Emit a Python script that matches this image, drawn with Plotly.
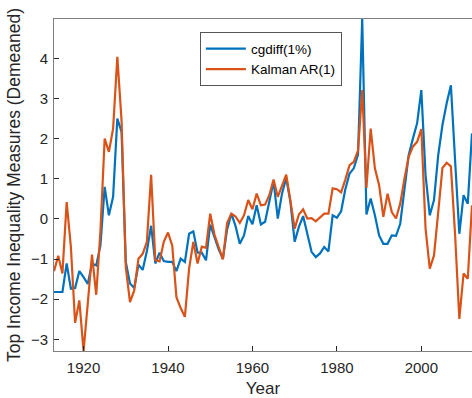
import plotly.graph_objects as go

years = list(range(1913, 2013))

cgdiff = [
    -1.82, -1.82, -1.82, -1.11, -1.74, -1.72, -1.30, -1.45, -1.62, -1.11,
    -1.16, -0.66, 0.80, 0.09, 0.55, 2.50, 2.17, -1.07, -1.61, -1.72,
    -1.14, -1.27, -0.80, -0.17, -1.11, -0.84, -1.05, -1.07, -1.07, -1.30,
    -0.99, -1.07, -0.37, -0.31, -0.84, -0.84, -1.03, -0.14, -0.45, -0.76,
    -0.99, -0.26, 0.13, -0.18, -0.62, -0.41, 0.07, -0.13, 0.34, -0.14,
    -0.07, 0.45, 0.94, 0.01, 0.63, 1.02, 0.42, -0.57, -0.20, 0.07,
    -0.39, -0.82, -0.95, -0.86, -0.70, -0.81, 0.09, 0.03, 0.19, 0.74,
    1.13, 1.26, 1.60, 4.98, 0.11, 0.51, 0.09, -0.41, -0.62, -0.62,
    -0.41, -0.42, -0.12, 0.67, 1.59, 2.00, 2.38, 3.21, 1.09, 0.09,
    0.47, 1.59, 2.34, 2.88, 3.33, 1.45, -0.37, 0.59, 0.38, 2.13,
]

kalman = [
    -1.30, -0.92, -1.36, 0.42, -0.70, -2.59, -2.03, -3.29, -2.10, -0.89,
    -1.89, -0.30, 2.00, 1.67, 2.25, 4.04, 2.45, -1.20, -2.07, -1.78,
    -0.99, -0.87, -0.57, 1.10, -1.03, -1.06, -0.57, -0.34, -0.66, -1.95,
    -2.22, -2.44, -1.24, -0.57, -1.11, -0.69, -0.72, 0.13, -0.39, -0.72,
    -1.01, -0.10, 0.13, 0.06, -0.10, 0.09, 0.47, 0.24, 0.63, 0.34,
    0.36, 0.59, 0.98, 0.55, 0.82, 1.10, 0.45, -0.24, 0.11, 0.24,
    0.01, 0.02, -0.06, 0.03, 0.13, 0.13, 0.76, 0.74, 0.66, 0.98,
    1.34, 1.42, 1.70, 3.21, 0.77, 2.25, 1.26, 0.84, 0.05, 0.63,
    0.17, 0.01, 0.38, 1.00, 1.55, 1.80, 1.92, 2.24, -0.24, -1.24,
    -0.91, 0.17, 1.27, 1.40, 1.31, -0.40, -2.49, -1.36, -1.49, 0.34,
]

series_names = ["cgdiff(1%)", "Kalman AR(1)"]
series_colors = ["#0072BD", "#D95319"]
y_ticks = [-3, -2, -1, 0, 1, 2, 3, 4]
x_ticks = [1920, 1940, 1960, 1980, 2000]

fig = go.Figure()
for name, vals, col in zip(series_names, [cgdiff, kalman], series_colors):
    fig.add_trace(go.Scatter(x=years, y=vals, mode="lines", name=name,
                             line=dict(color=col, width=2.2)))

axis_col = "#808080"
text_col = "#262626"
font_fam = "Liberation Sans, Arial, sans-serif"

fig.update_layout(
    width=472, height=398,
    margin=dict(l=54, r=0, t=19, b=47),
    paper_bgcolor="white", plot_bgcolor="white",
    font=dict(family=font_fam, color=text_col, size=15),
    showlegend=True,
    legend=dict(x=0.349, y=0.96, xanchor="left", yanchor="top",
                bgcolor="white", bordercolor="#555555", borderwidth=1,
                font=dict(size=13.5, color="black", family=font_fam),
                tracegroupgap=0, itemwidth=40),
    xaxis=dict(range=[1913, 2012], tickvals=x_ticks, ticks="inside", ticklen=5,
               tickcolor=text_col, showline=True, linecolor=axis_col, linewidth=1,
               mirror=True, showgrid=False, zeroline=False,
               tickfont=dict(size=15), ticklabelstandoff=3,
               title=dict(text="Year", font=dict(size=17), standoff=10)),
    yaxis=dict(range=[-3.29, 4.98], tickvals=y_ticks, ticks="inside", ticklen=5,
               tickcolor=text_col, showline=True, linecolor=axis_col, linewidth=1,
               mirror=False, showgrid=False, zeroline=False,
               tickfont=dict(size=15), ticklabelstandoff=2,
               title=dict(text="Top Income Inequality Measures (Demeaned)",
                          font=dict(size=17.5), standoff=5)),
)

fig.write_html("out.html")
